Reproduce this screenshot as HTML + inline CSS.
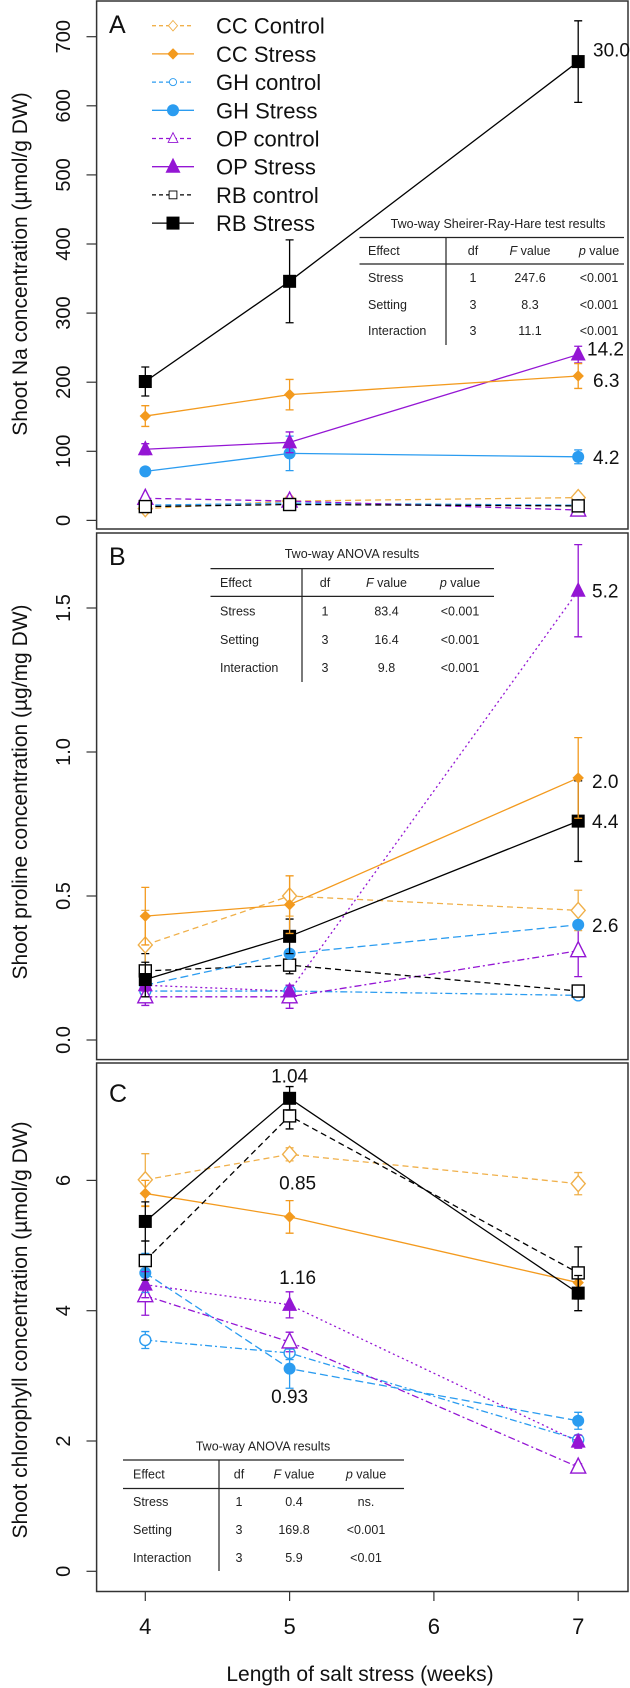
<!DOCTYPE html>
<html><head><meta charset="utf-8"><style>
html,body{margin:0;padding:0;background:#fff;}
svg{display:block;font-family:"Liberation Sans",sans-serif;}
.cal{font-family:"Liberation Sans",sans-serif;}
</style></head><body>
<svg id="chart" width="630" height="1688" viewBox="0 0 630 1688"></svg>
<script>
// ---- shared x data ----
const weeks = [4, 5, 7];
const xTicks = [4, 5, 6, 7];
const seriesNames = ["CC Control","CC Stress","GH control","GH Stress","OP control","OP Stress","RB control","RB Stress"];

// ---- Panel A: shoot Na ----
const naCCc = [17, 28, 33];
const naCCs = [151, 182, 209];
const naGHc = [22, 25, 22];
const naGHs = [71, 97, 92];
const naOPc = [32, 28, 15];
const naOPs = [103, 113, 240];
const naRBc = [20, 23, 21];
const naRBs = [201, 346, 664];
const naErrCCs = [15, 22, 18];
const naErrGHs = [5, 25, 10];
const naErrOPs = [8, 15, 12];
const naErrRBs = [21, 60, 59];
const naTicks = [0,100,200,300,400,500,600,700];
const naLabels = ["30.0","14.2","6.3","4.2"];
const naLabelVals = [664, 240, 209, 92];

// ---- Panel B: proline ----
const prCCc = [0.33, 0.50, 0.45];
const prCCs = [0.43, 0.47, 0.91];
const prGHc = [0.17, 0.17, 0.155];
const prGHs = [0.19, 0.30, 0.40];
const prOPc = [0.15, 0.15, 0.31];
const prOPs = [0.19, 0.17, 1.56];
const prRBc = [0.24, 0.26, 0.17];
const prRBs = [0.21, 0.36, 0.76];
const prErrCCc = [0.12, 0.07, 0.07];
const prErrCCs = [0.1, 0.1, 0.14];
const prErrOPs = [0.02, 0.02, 0.16];
const prErrOPc = [0.03, 0.04, 0.09];
const prErrRBs = [0.06, 0.06, 0.14];
const prErrRBc = [0.06, 0.03, 0.02];
const prTicks = [0.0, 0.5, 1.0, 1.5];
const prLabels = ["5.2","2.0","4.4","2.6"];
const prLabelVals = [1.56, 0.90, 0.76, 0.40];

// ---- Panel C: chlorophyll ----
const chCCc = [6.01, 6.40, 5.95];
const chCCs = [5.80, 5.44, 4.43];
const chGHc = [3.55, 3.35, 2.02];
const chGHs = [4.58, 3.11, 2.31];
const chOPc = [4.23, 3.52, 1.60];
const chOPs = [4.40, 4.09, 1.99];
const chRBc = [4.77, 6.99, 4.58];
const chRBs = [5.37, 7.26, 4.27];
const chErrCCc = [0.4, 0.1, 0.17];
const chErrCCs = [0.2, 0.25, 0.2];
const chErrRBs = [0.3, 0.18, 0.27];
const chErrRBc = [0.3, 0.2, 0.4];
const chErrOPc = [0.3, 0.15, 0.05];
const chErrOPs = [0.2, 0.2, 0.1];
const chErrGHc = [0.13, 0.1, 0.05];
const chErrGHs = [0.3, 0.3, 0.13];
const chTicks = [0, 2, 4, 6];
const chLabels = ["1.04","0.85","1.16","0.93"];

const NS = "http://www.w3.org/2000/svg";
const svg = document.getElementById('chart');
function el(tag, attrs, parent, text){
  const e = document.createElementNS(NS, tag);
  for (const k in attrs) e.setAttribute(k, attrs[k]);
  if (text !== undefined) e.textContent = text;
  (parent||svg).appendChild(e);
  return e;
}
const xs = w => 145.3 + (w - 4) * 144.3;
const LEFT = 96.6, RIGHT = 628;

const ORANGE = "#f39a1e", ORANGE_L = "#f0b04a", BLUE = "#2b9cf0", PURPLE = "#9416d4", BLACK = "#000";

function marker(g, type, x, y, color){
  let m;
  if (type === 'diamondOpen') m = el('polygon',{points:`${x},${y-8} ${x+7},${y} ${x},${y+8} ${x-7},${y}`,fill:'#fff',stroke:color,'stroke-width':1.4},g);
  else if (type === 'diamond') m = el('polygon',{points:`${x},${y-5} ${x+5},${y} ${x},${y+5} ${x-5},${y}`,fill:color,stroke:color},g);
  else if (type === 'circleOpen') m = el('circle',{cx:x,cy:y,r:5.5,fill:'#fff',stroke:color,'stroke-width':1.4},g);
  else if (type === 'circle') m = el('circle',{cx:x,cy:y,r:6,fill:color},g);
  else if (type === 'triOpen') m = el('polygon',{points:`${x},${y-9} ${x+7.5},${y+6} ${x-7.5},${y+6}`,fill:'#fff',stroke:color,'stroke-width':1.4},g);
  else if (type === 'tri') m = el('polygon',{points:`${x},${y-9} ${x+7.5},${y+6} ${x-7.5},${y+6}`,fill:color},g);
  else if (type === 'squareOpen') m = el('rect',{x:x-6,y:y-6,width:12,height:12,fill:'#fff',stroke:color,'stroke-width':1.4},g);
  else m = el('rect',{x:x-6.5,y:y-6.5,width:13,height:13,fill:color},g);
  
  
  return m;
}

function series(panel, ys, vals, errs, color, dash, mtype, name){
  const g = el('g', {}, panel);
  
  
  const pts = weeks.map((w,i)=>[xs(w), ys(vals[i])]);
  const line = el('polyline', {points: pts.map(p=>p.join(',')).join(' '), fill:'none', stroke:color, 'stroke-width':1.3, 'stroke-dasharray':dash||'none'}, g);
  
  
  if (errs) weeks.forEach((w,i)=>{
    const x = xs(w), y1 = ys(vals[i]+errs[i]), y2 = ys(vals[i]-errs[i]);
    const eb = el('path', {d:`M${x},${y1}V${y2}M${x-4},${y1}H${x+4}M${x-4},${y2}H${x+4}`, stroke:color, 'stroke-width':1.3, fill:'none'}, g);
    
    
  });
  pts.forEach(p=>marker(g, mtype, p[0], p[1], color));
}

function frame(panel, top, bottom, ys, ticks, fmt, title, titleY, letter, letterY){
  const b = el('rect', {x:LEFT, y:top, width:RIGHT-LEFT, height:bottom-top, fill:'none', stroke:'#333', 'stroke-width':1.5}, panel);
  
  
  ticks.forEach(t=>{
    const y = ys(t);
    el('line', {x1:86.5, x2:LEFT, y1:y, y2:y, stroke:'#333', 'stroke-width':1.2}, panel);
    const tl = el('text', {x:0, y:0, transform:`translate(70,${y}) rotate(-90)`, 'text-anchor':'middle', 'font-size':20, fill:'#111'}, panel, fmt(t));
    
    
  });
  const yt = el('text', {transform:`translate(27,${titleY}) rotate(-90)`, 'text-anchor':'middle', 'font-size':21, fill:'#111'}, panel, title);
  
  
  const lt = el('text', {x:109, y:letterY, 'font-size':25, fill:'#111'}, panel, letter);
  
  
}

function table(panel, t){
  const g = el('g', {'font-size':12.5, fill:'#222', class:'cal'}, panel);
  
  
  el('text', {x:t.cx, y:t.titleY+4, 'text-anchor':'middle'}, g, t.title);
  el('line', {x1:t.x1, x2:t.x2, y1:t.l1, y2:t.l1, stroke:'#222', 'stroke-width':1.2}, g);
  el('line', {x1:t.x1, x2:t.x2, y1:t.l2, y2:t.l2, stroke:'#222', 'stroke-width':1.2}, g);
  el('line', {x1:t.vx, x2:t.vx, y1:t.l1, y2:t.vb, stroke:'#222', 'stroke-width':1.2}, g);
  const hdr = el('text', {x:t.ce, y:t.rows[0]+4}, g, 'Effect');
  el('text', {x:t.cd, y:t.rows[0]+4, 'text-anchor':'middle'}, g, 'df');
  const f = el('text', {x:t.cf, y:t.rows[0]+4, 'text-anchor':'middle'}, g);
  el('tspan', {'font-style':'italic'}, f, 'F'); el('tspan', {}, f, ' value');
  const p = el('text', {x:t.cp, y:t.rows[0]+4, 'text-anchor':'middle'}, g);
  el('tspan', {'font-style':'italic'}, p, 'p'); el('tspan', {}, p, ' value');
  t.data.forEach((r,i)=>{
    const y = t.rows[i+1]+4;
    el('text', {x:t.ce, y:y}, g, r[0]);
    el('text', {x:t.cd, y:y, 'text-anchor':'middle'}, g, r[1]);
    el('text', {x:t.cf, y:y, 'text-anchor':'middle'}, g, r[2]);
    el('text', {x:t.cp, y:y, 'text-anchor':'middle'}, g, r[3]);
  });
}

function valueLabel(panel, x, y, txt, anchor){
  const t = el('text', {x:x, y:y+7, 'font-size':19, fill:'#111', 'text-anchor':anchor||'start'}, panel, txt);
  
  
}

// ================= Panel A =================
const pA = el('g', {});  
const yA = v => 520.4 - v * 0.691;
frame(pA, 1, 529, yA, naTicks, v=>String(v), 'Shoot Na concentration (µmol/g DW)', 264, 'A', 33);
series(pA, yA, naCCc, null, ORANGE_L, '6,4', 'diamondOpen', 'cc-control');
series(pA, yA, naGHc, null, BLUE, '6,4', 'circleOpen', 'gh-control');
series(pA, yA, naOPc, null, PURPLE, '6,4', 'triOpen', 'op-control');
series(pA, yA, naRBc, null, BLACK, '6,4', 'squareOpen', 'rb-control');
series(pA, yA, naGHs, naErrGHs, BLUE, null, 'circle', 'gh-stress');
series(pA, yA, naOPs, naErrOPs, PURPLE, null, 'tri', 'op-stress');
series(pA, yA, naCCs, naErrCCs, ORANGE, null, 'diamond', 'cc-stress');
series(pA, yA, naRBs, naErrRBs, BLACK, null, 'square', 'rb-stress');
naLabels.forEach((l,i)=>{
  const off = i===0 ? -12 : (i===1 ? -6 : (i===2 ? 4 : 0));
  valueLabel(pA, i===1?587:593, yA(naLabelVals[i]) + off, l);
});
// legend
const legTypes = ['diamondOpen','diamond','circleOpen','circle','triOpen','tri','squareOpen','square'];
const legColors = [ORANGE_L, ORANGE, BLUE, BLUE, PURPLE, PURPLE, BLACK, BLACK];
const lg = el('g', {}, pA);  
seriesNames.forEach((n,i)=>{
  const y = 25.7 + i * 28.2;
  const e = el('g', {}, lg);
  
  
  el('line', {x1:152, x2:194, y1:y, y2:y, stroke:legColors[i], 'stroke-width':1.3, 'stroke-dasharray': i%2===0 ? '4,3' : 'none'}, e);
  const small = {diamondOpen:1,circleOpen:1,triOpen:1,squareOpen:1}[legTypes[i]];
  const m = marker(e, legTypes[i], 173, y, legColors[i]);
  if (small) m.setAttribute('transform', `translate(173,${y}) scale(0.65) translate(-173,${-y})`);
  el('text', {x:216, y:y+8, 'font-size':22, fill:'#111'}, e, n);
});
table(pA, {title:'Two-way Sheirer-Ray-Hare test results', cx:498, titleY:224, x1:359.5, x2:624, l1:237.5, l2:264, vx:446, vb:345,
  rows:[251,278,305,331], ce:368, cd:473, cf:530, cp:599,
  data:[['Stress','1','247.6','<0.001'],['Setting','3','8.3','<0.001'],['Interaction','3','11.1','<0.001']]});

// ================= Panel B =================
const pB = el('g', {});  
const yB = v => 1040 - v * 288;
frame(pB, 533, 1059.6, yB, prTicks, v=>v.toFixed(1), 'Shoot proline concentration (µg/mg DW)', 792, 'B', 565);
series(pB, yB, prGHc, null, BLUE, '7,3,2,3', 'circleOpen', 'gh-control');
series(pB, yB, prOPc, prErrOPc, PURPLE, '7,3,2,3', 'triOpen', 'op-control');
series(pB, yB, prRBc, prErrRBc, BLACK, '6,4', 'squareOpen', 'rb-control');
series(pB, yB, prCCc, prErrCCc, ORANGE_L, '6,4', 'diamondOpen', 'cc-control');
series(pB, yB, prGHs, null, BLUE, '8,4', 'circle', 'gh-stress');
series(pB, yB, prOPs, prErrOPs, PURPLE, '2,3', 'tri', 'op-stress');
series(pB, yB, prRBs, prErrRBs, BLACK, null, 'square', 'rb-stress');
series(pB, yB, prCCs, prErrCCs, ORANGE, null, 'diamond', 'cc-stress');
prLabels.forEach((l,i)=>valueLabel(pB, 592, yB(prLabelVals[i]), l));
table(pB, {title:'Two-way ANOVA results', cx:352, titleY:554, x1:210.5, x2:494, l1:568.6, l2:596.4, vx:302, vb:682,
  rows:[583,611.4,640,668], ce:220, cd:325, cf:386.5, cp:460,
  data:[['Stress','1','83.4','<0.001'],['Setting','3','16.4','<0.001'],['Interaction','3','9.8','<0.001']]});

// ================= Panel C =================
const pC = el('g', {});  
const yC = v => 1571.3 - v * 65.15;
frame(pC, 1063, 1591.5, yC, chTicks, v=>String(v), 'Shoot chlorophyll concentration (µmol/g DW)', 1330, 'C', 1102);
series(pC, yC, chGHc, chErrGHc, BLUE, '7,3,2,3', 'circleOpen', 'gh-control');
series(pC, yC, chOPc, chErrOPc, PURPLE, '7,3,2,3', 'triOpen', 'op-control');
series(pC, yC, chGHs, chErrGHs, BLUE, '8,4', 'circle', 'gh-stress');
series(pC, yC, chOPs, chErrOPs, PURPLE, '2,3', 'tri', 'op-stress');
series(pC, yC, chCCc, chErrCCc, ORANGE_L, '6,4', 'diamondOpen', 'cc-control');
series(pC, yC, chCCs, chErrCCs, ORANGE, null, 'diamond', 'cc-stress');
series(pC, yC, chRBc, chErrRBc, BLACK, '6,4', 'squareOpen', 'rb-control');
series(pC, yC, chRBs, chErrRBs, BLACK, null, 'square', 'rb-stress');
valueLabel(pC, xs(5), 1075.7, chLabels[0], 'middle');
valueLabel(pC, xs(5)+8, 1182.7, chLabels[1], 'middle');
valueLabel(pC, xs(5)+8, 1277, chLabels[2], 'middle');
valueLabel(pC, xs(5), 1396, chLabels[3], 'middle');
table(pC, {title:'Two-way ANOVA results', cx:263, titleY:1446.6, x1:123, x2:404, l1:1460, l2:1488.5, vx:219, vb:1571,
  rows:[1474.4,1502,1530,1558], ce:133, cd:239, cf:294, cp:366,
  data:[['Stress','1','0.4','ns.'],['Setting','3','169.8','<0.001'],['Interaction','3','5.9','<0.01']]});

// x axis
const xa = el('g', {});  
xTicks.forEach(w=>{
  const x = xs(w);
  el('line', {x1:x, x2:x, y1:1591.5, y2:1601, stroke:'#333', 'stroke-width':1.2}, xa);
  const t = el('text', {x:x, y:1634, 'text-anchor':'middle', 'font-size':22, fill:'#111'}, xa, String(w));
  
  
});
const xt = el('text', {x:360, y:1681, 'text-anchor':'middle', 'font-size':21, fill:'#111'}, xa, 'Length of salt stress (weeks)');


</script>
</body></html>
